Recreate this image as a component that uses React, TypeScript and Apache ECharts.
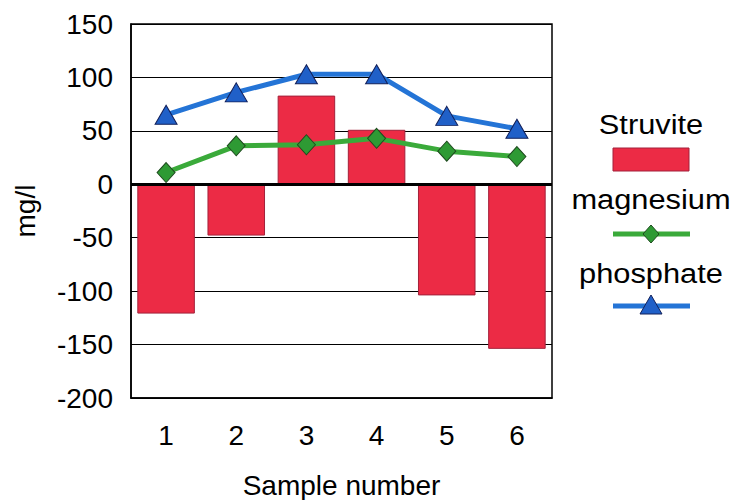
import React, { useEffect, useRef } from "react";
import * as echarts from "echarts";

const categories = ["1", "2", "3", "4", "5", "6"];
const struvite = [-121, -48, 83, 51, -104, -154];
const magnesium = [11, 36, 37, 43, 31, 26];
const phosphate = [65, 86, 103, 103, 64, 52];
const seriesNames = ["Struvite", "magnesium", "phosphate"];
const yTicks = { min: -200, max: 150, interval: 50 };

const FONT = "'Liberation Sans', Arial, sans-serif";
const FS = 28;
const RED = "#EC2B45";
const RED_BORDER = "#A3213A";
const GREEN = "#3AAA3A";
const GREEN_MARK = "#2E9A34";
const BLUE = "#2474D6";
const BLUE_MARK = "#2060C8";

export default function App() {
  const ref = useRef<HTMLDivElement>(null);
  useEffect(() => {
    document.body.style.margin = "0";
    if (!ref.current) return;
    const chart = echarts.init(ref.current, undefined, { renderer: "svg" });
    const lx = 651;
    const legendText = (i: number, y: number) => ({
      type: "text",
      x: lx,
      y,
      scaleX: 1.1,
      style: {
        text: seriesNames[i],
        fill: "#000",
        font: `${FS}px ${FONT}`,
        align: "center",
        verticalAlign: "middle",
      },
    });
    chart.setOption({
      animation: false,
      backgroundColor: "#ffffff",
      grid: {
        left: 131,
        right: 183,
        top: 24,
        bottom: 102,
        outerBoundsMode: "none",
        containLabel: false,
        show: true,
        borderColor: "#000",
        borderWidth: 1.5,
        backgroundColor: "transparent",
      },
      xAxis: {
        type: "category",
        data: categories,
        axisLine: { onZero: false, lineStyle: { color: "#000", width: 1.5 } },
        axisTick: { show: false },
        axisLabel: { color: "#000", fontSize: FS, fontFamily: FONT, margin: 23 },
        name: "Sample number",
        nameLocation: "middle",
        nameGap: 73,
        nameTextStyle: { color: "#000", fontSize: FS, fontFamily: FONT },
      },
      yAxis: {
        type: "value",
        min: yTicks.min,
        max: yTicks.max,
        interval: yTicks.interval,
        axisLine: { show: true, lineStyle: { color: "#000", width: 1.5 } },
        axisTick: { show: false },
        splitLine: { lineStyle: { color: "#000", width: 1 } },
        axisLabel: { color: "#000", fontSize: FS, fontFamily: FONT, margin: 18 },
        name: "mg/l",
        nameLocation: "middle",
        nameGap: 92,
        nameTextStyle: { color: "#000", fontSize: FS, fontFamily: FONT },
      },
      series: [
        {
          name: seriesNames[0],
          type: "bar",
          data: struvite,
          barCategoryGap: "18%",
          itemStyle: { color: RED, borderColor: RED_BORDER, borderWidth: 1 },
          markLine: {
            silent: true,
            symbol: "none",
            label: { show: false },
            lineStyle: { color: "#000", width: 3, type: "solid" },
            data: [{ yAxis: 0 }],
          },
          z: 1,
        },
        {
          name: seriesNames[1],
          type: "line",
          data: magnesium,
          symbol: "diamond",
          symbolSize: [18, 20],
          lineStyle: { color: GREEN, width: 5 },
          itemStyle: { color: GREEN_MARK, borderColor: "#1E4A1E", borderWidth: 1 },
          z: 3,
        },
        {
          name: seriesNames[2],
          type: "line",
          data: phosphate,
          symbol: "triangle",
          symbolSize: [22, 19],
          lineStyle: { color: BLUE, width: 5 },
          itemStyle: { color: BLUE_MARK, borderColor: "#12205A", borderWidth: 1 },
          z: 4,
        },
      ],
      graphic: [
        legendText(0, 124),
        {
          type: "rect",
          shape: { x: 613, y: 148, width: 76, height: 23 },
          style: { fill: RED, stroke: RED_BORDER, lineWidth: 1 },
        },
        legendText(1, 199),
        {
          type: "line",
          shape: { x1: 613, y1: 234, x2: 690, y2: 234 },
          style: { stroke: GREEN, lineWidth: 5 },
        },
        {
          type: "polygon",
          shape: { points: [[lx, 225], [lx + 8, 234], [lx, 243], [lx - 8, 234]] },
          style: { fill: GREEN_MARK, stroke: "#1E4A1E", lineWidth: 1 },
        },
        legendText(2, 273),
        {
          type: "line",
          shape: { x1: 613, y1: 306, x2: 690, y2: 306 },
          style: { stroke: BLUE, lineWidth: 5 },
        },
        {
          type: "polygon",
          shape: { points: [[lx, 295], [lx + 11, 314], [lx - 11, 314]] },
          style: { fill: BLUE_MARK, stroke: "#12205A", lineWidth: 1 },
        },
      ],
    });
    return () => chart.dispose();
  }, []);
  return <div ref={ref} style={{ width: 735, height: 500 }} />;
}
